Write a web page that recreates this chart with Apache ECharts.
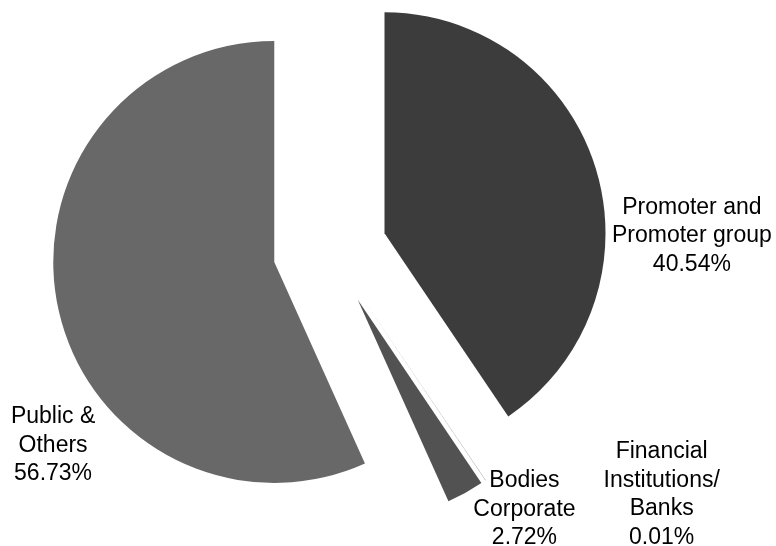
<!DOCTYPE html>
<html>
<head>
<meta charset="utf-8">
<script src="https://cdn.jsdelivr.net/npm/echarts@6/dist/echarts.min.js"></script>
<style>
  html, body { margin: 0; padding: 0; background: #ffffff; }
  #chart { width: 776px; height: 546px; }
</style>
</head>
<body>
<div id="chart"></div>
<script>
// Shareholding pattern (% of total shares)
const categories = [
  'Promoter and\nPromoter group',
  'Financial\nInstitutions/\nBanks',
  'Bodies\nCorporate',
  'Public &\nOthers'
];
const shares = [40.54, 0.01, 2.72, 56.73];
const sliceColors = ['#3c3c3c', '#474747', '#525252', '#686868'];

// Where each label block is centred (px)
const labelSpots = [[689, 237], [660, 492], [523, 507], [56, 445]];

const pieCenter = [330, 250];
const pieRadius = 221;
const explode = 57;

// Labels sit 'inside' by default (half radius + explode along the mid angle);
// shift each one from there to its spot.
const total = shares.reduce(function (a, b) { return a + b; }, 0);
let acc = 0;
const labelOffsets = shares.map(function (v, i) {
  const mid = (90 - 360 * (acc + v / 2) / total) * Math.PI / 180;
  acc += v;
  const d = pieRadius / 2 + explode;
  const bx = pieCenter[0] + d * Math.cos(mid);
  const by = pieCenter[1] - d * Math.sin(mid);
  return [labelSpots[i][0] - bx, labelSpots[i][1] - by];
});

const chart = echarts.init(document.getElementById('chart'), null, { renderer: 'canvas' });

chart.setOption({
  animation: false,
  backgroundColor: '#ffffff',
  series: [{
    type: 'pie',
    center: pieCenter,
    radius: [0, pieRadius],
    startAngle: 90,
    clockwise: true,
    selectedMode: 'multiple',
    selectedOffset: explode,
    avoidLabelOverlap: false,
    emphasis: { disabled: true },
    itemStyle: { borderWidth: 0 },
    label: {
      show: true,
      position: 'inside',
      color: '#000000',
      fontFamily: 'Liberation Sans, Arial, sans-serif',
      fontSize: 23,
      lineHeight: 28.5,
      align: 'center',
      formatter: function (p) {
        return p.name + '\n' + p.value.toFixed(2) + '%';
      }
    },
    labelLine: { show: false },
    data: categories.map(function (name, i) {
      return {
        name: name,
        value: shares[i],
        selected: true,
        itemStyle: { color: sliceColors[i] },
        label: { offset: labelOffsets[i] },
        select: { itemStyle: { color: sliceColors[i] }, label: { offset: labelOffsets[i] } }
      };
    })
  }]
});
</script>
</body>
</html>
